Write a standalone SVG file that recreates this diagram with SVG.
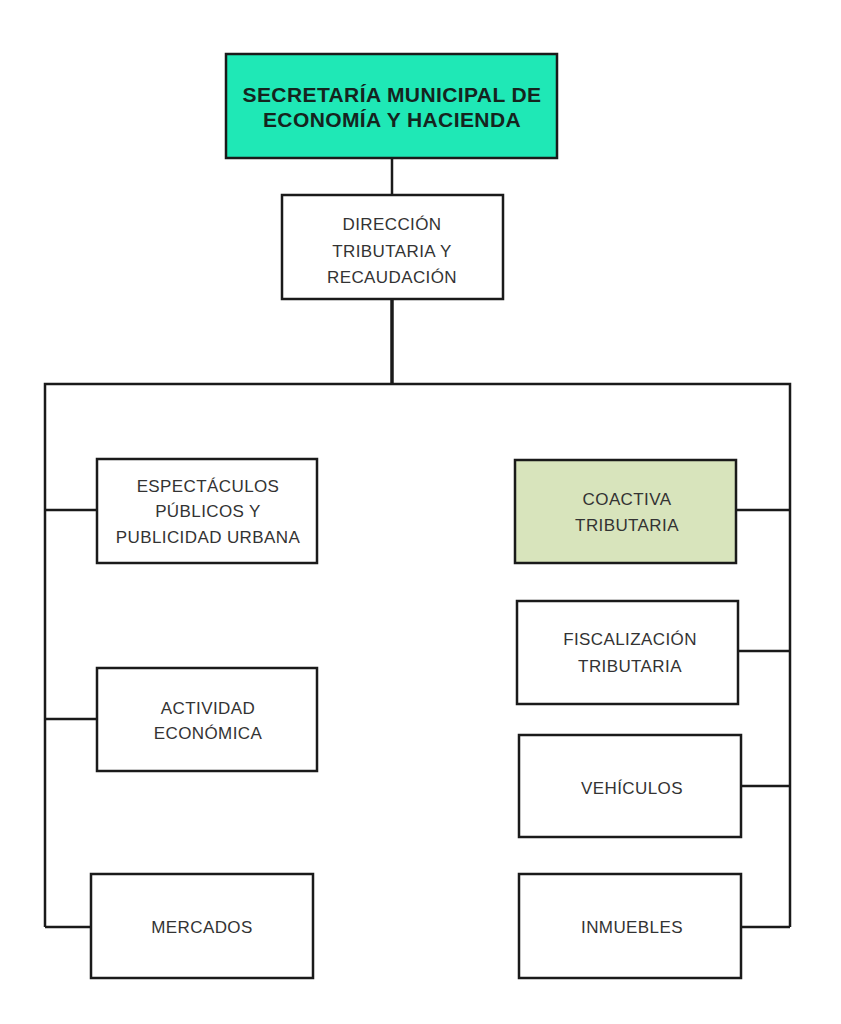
<svg xmlns="http://www.w3.org/2000/svg" width="841" height="1024" viewBox="0 0 841 1024">
<style>
.box{fill:#ffffff;stroke:#1a1a1a;stroke-width:2.5}
.t{font-family:"Liberation Sans",Arial,sans-serif;font-size:17px;letter-spacing:0.4px;fill:#333333;text-anchor:middle}
.title{font-family:"Liberation Sans",Arial,sans-serif;font-size:21px;letter-spacing:0.4px;font-weight:bold;fill:#15241e;text-anchor:middle}
.ln{stroke:#1a1a1a;stroke-width:2.5;fill:none}
</style>
<rect width="841" height="1024" fill="#ffffff"/>
<g id="connectors">
<line class="ln" x1="392" y1="158" x2="392" y2="195"/>
<line class="ln" x1="392" y1="299" x2="392" y2="384" style="stroke-width:3.5"/>
<polyline class="ln" points="45,927 45,384 790,384 790,927"/>
<line class="ln" x1="45" y1="510" x2="97" y2="510"/>
<line class="ln" x1="45" y1="719" x2="97" y2="719"/>
<line class="ln" x1="45" y1="927" x2="91" y2="927"/>
<line class="ln" x1="736" y1="510" x2="790" y2="510"/>
<line class="ln" x1="738" y1="651" x2="790" y2="651"/>
<line class="ln" x1="741" y1="786" x2="790" y2="786"/>
<line class="ln" x1="741" y1="927" x2="790" y2="927"/>
</g>
<g id="secretaria">
<rect class="box" x="226" y="54" width="331" height="104" style="fill:#1fe8b6"/>
<text class="title" x="392" y="102">SECRETARÍA MUNICIPAL DE</text>
<text class="title" x="392" y="127">ECONOMÍA Y HACIENDA</text>
</g>
<g id="direccion">
<rect class="box" x="282" y="195" width="221" height="104"/>
<text class="t" x="392" y="230">DIRECCIÓN</text>
<text class="t" x="392" y="257">TRIBUTARIA Y</text>
<text class="t" x="392" y="283">RECAUDACIÓN</text>
</g>
<g id="espectaculos">
<rect class="box" x="97" y="459" width="220" height="104"/>
<text class="t" x="208" y="492">ESPECTÁCULOS</text>
<text class="t" x="208" y="517">PÚBLICOS Y</text>
<text class="t" x="208" y="543">PUBLICIDAD URBANA</text>
</g>
<g id="actividad">
<rect class="box" x="97" y="668" width="220" height="103"/>
<text class="t" x="208" y="714">ACTIVIDAD</text>
<text class="t" x="208" y="739">ECONÓMICA</text>
</g>
<g id="mercados">
<rect class="box" x="91" y="874" width="222" height="104"/>
<text class="t" x="202" y="933">MERCADOS</text>
</g>
<g id="coactiva">
<rect class="box" x="515" y="460" width="221" height="103" style="fill:#d8e4bc"/>
<text class="t" x="627" y="505">COACTIVA</text>
<text class="t" x="627" y="531">TRIBUTARIA</text>
</g>
<g id="fiscalizacion">
<rect class="box" x="517" y="601" width="221" height="103"/>
<text class="t" x="630" y="645">FISCALIZACIÓN</text>
<text class="t" x="630" y="672">TRIBUTARIA</text>
</g>
<g id="vehiculos">
<rect class="box" x="519" y="735" width="222" height="102"/>
<text class="t" x="632" y="794">VEHÍCULOS</text>
</g>
<g id="inmuebles">
<rect class="box" x="519" y="874" width="222" height="104"/>
<text class="t" x="632" y="933">INMUEBLES</text>
</g>
</svg>
